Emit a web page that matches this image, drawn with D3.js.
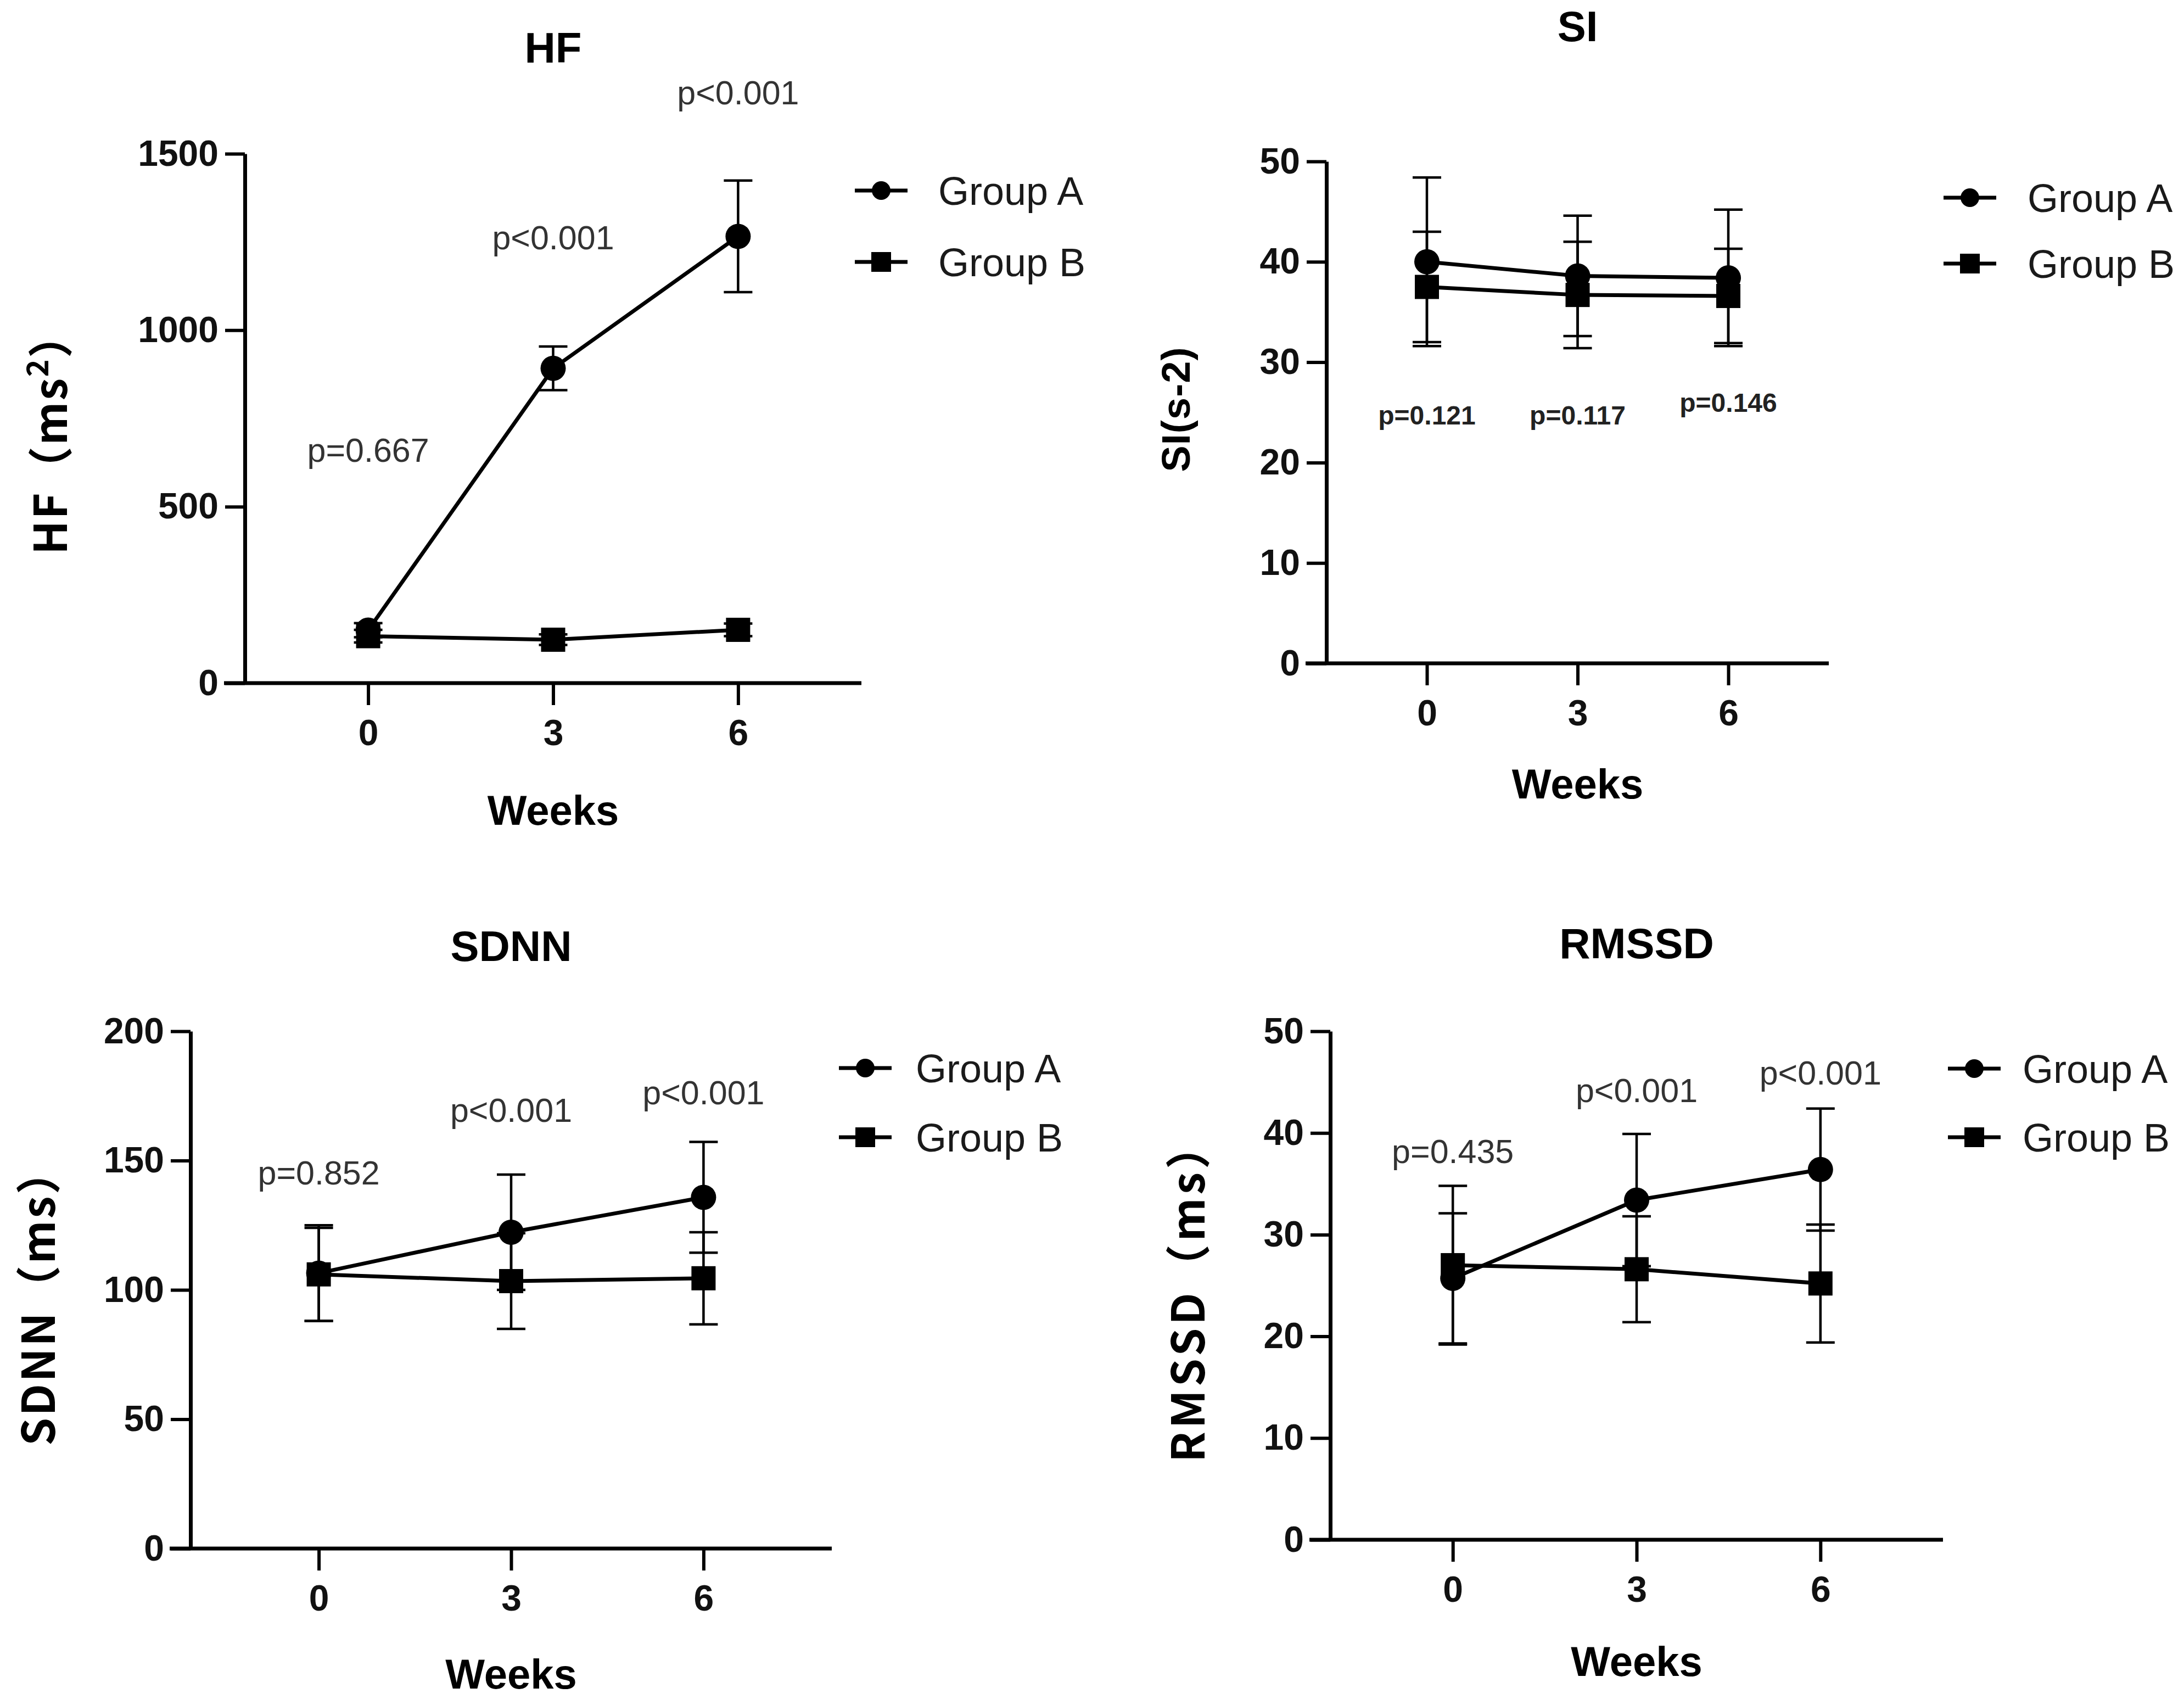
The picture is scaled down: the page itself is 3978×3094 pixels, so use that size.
<!DOCTYPE html>
<html>
<head>
<meta charset="utf-8">
<script src="https://cdn.jsdelivr.net/npm/d3@7"></script>
<style>
  html, body { margin: 0; padding: 0; background: #fff; }
  svg { display: block; }
</style>
</head>
<body>
<svg id="chart"></svg>
<script>
// x categories (weeks) and legend names
const weeks = [0, 3, 6];
const groupNames = ['Group A', 'Group B'];

// HF (ms^2), mean and error per week
const hfA = [150, 892, 1266];
const hfAErr = [20, 62, 158];
const hfB = [133, 123, 151];
const hfBErr = [18, 15, 18];
const hfTicks = [0, 500, 1000, 1500];
const hfP = ['p=0.667', 'p<0.001', 'p<0.001'];

// SI (s-2)
const siA = [40.0, 38.6, 38.4];
const siAErr = [8.4, 6.0, 6.8];
const siB = [37.5, 36.7, 36.6];
const siBErr = [5.5, 5.3, 4.7];
const siTicks = [0, 10, 20, 30, 40, 50];
const siP = ['p=0.121', 'p=0.117', 'p=0.146'];

// SDNN (ms)
const sdnnA = [106.5, 122.3, 135.8];
const sdnnAErr = [18.5, 22.3, 21.4];
const sdnnB = [106, 103.4, 104.5];
const sdnnBErr = [18, 18.5, 17.8];
const sdnnTicks = [0, 50, 100, 150, 200];
const sdnnP = ['p=0.852', 'p<0.001', 'p<0.001'];

// RMSSD (ms)
const rmssdA = [25.7, 33.4, 36.4];
const rmssdAErr = [6.4, 6.5, 6.0];
const rmssdB = [27.0, 26.6, 25.2];
const rmssdBErr = [7.8, 5.2, 5.8];
const rmssdTicks = [0, 10, 20, 30, 40, 50];
const rmssdP = ['p=0.435', 'p<0.001', 'p<0.001'];

const W = 3978, H = 3094;
const LATIN = '"Liberation Sans", Arial, sans-serif';
const CJK = '"Noto Sans CJK SC", "Noto Sans CJK JP", sans-serif';

// layout of each panel (pixels), p label heights are in data units
const panels = [
  { title: 'HF', label: ['HF（ms', '2', '）'], labelFont: CJK, a: hfA, aErr: hfAErr, b: hfB, bErr: hfBErr,
    ticks: hfTicks, p: hfP, pY: [660, 1262, 1674], pBold: false,
    xr: [446, 1569], yr: [1244, 280], titleY: 114, weeksY: 1502,
    legend: { x: 1605, y: [347, 477], tx: 1709 }, lab: { x: 122, y: 790, len: 440 } },
  { title: 'SI', label: ['SI(s-2)'], labelFont: LATIN, a: siA, aErr: siAErr, b: siB, bErr: siBErr,
    ticks: siTicks, p: siP, pY: [24.7, 24.7, 26.0], pBold: true,
    xr: [2416, 3331], yr: [1208, 294], titleY: 75, weeksY: 1454,
    legend: { x: 3588, y: [360, 480], tx: 3693 }, lab: { x: 2167, y: 746, len: 227 } },
  { title: 'SDNN', label: ['SDNN（ms）'], labelFont: CJK, a: sdnnA, aErr: sdnnAErr, b: sdnnB, bErr: sdnnBErr,
    ticks: sdnnTicks, p: sdnnP, pY: [145.2, 169.6, 176.2], pBold: false,
    xr: [347, 1515], yr: [2820, 1878], titleY: 1750, weeksY: 3075,
    legend: { x: 1576, y: [1945, 2071], tx: 1668 }, lab: { x: 100, y: 2363, len: 540 } },
  { title: 'RMSSD', label: ['RMSSD（ms）'], labelFont: CJK, a: rmssdA, aErr: rmssdAErr, b: rmssdB, bErr: rmssdBErr,
    ticks: rmssdTicks, p: rmssdP, pY: [38.2, 44.2, 45.9], pBold: false,
    xr: [2423, 3539], yr: [2804, 1878], titleY: 1745, weeksY: 3052,
    legend: { x: 3596, y: [1946, 2071], tx: 3684 }, lab: { x: 2194, y: 2355, len: 616 } }
];

const svg = d3.select('#chart')
  .attr('width', W)
  .attr('height', H)
  .attr('viewBox', `0 0 ${W} ${H}`);

svg.append('rect').attr('width', W).attr('height', H).attr('fill', '#fff');

// draws a filled marker (circle for A, square for B)
function drawMarker(g, shape, cx, cy, size) {
  if (shape === 0) {
    g.append('circle').attr('cx', cx).attr('cy', cy).attr('r', size / 2).attr('fill', '#000');
  } else {
    g.append('rect').attr('x', cx - size / 2).attr('y', cy - size / 2)
      .attr('width', size).attr('height', size).attr('fill', '#000');
  }
}

function renderPanel(cfg) {
  const g = svg.append('g');
  const x = d3.scaleLinear().domain([-2, 8]).range(cfg.xr);
  const yMax = cfg.ticks[cfg.ticks.length - 1];
  const y = d3.scaleLinear().domain([0, yMax]).range(cfg.yr);

  // y axis
  const yAxis = g.append('g')
    .attr('transform', `translate(${cfg.xr[0]},0)`)
    .call(d3.axisLeft(y).tickValues(cfg.ticks).tickFormat(d3.format('d'))
      .tickSize(36).tickPadding(12).tickSizeOuter(0));
  yAxis.select('.domain').attr('stroke-width', 7);
  yAxis.selectAll('.tick line').attr('stroke-width', 6);
  yAxis.selectAll('.tick text')
    .attr('font-family', LATIN).attr('font-weight', 'bold').attr('font-size', 66).attr('fill', '#111');

  // x axis, starts at the end of the y ticks like the original
  const xAxis = g.append('g')
    .attr('transform', `translate(0,${cfg.yr[0]})`)
    .call(d3.axisBottom(x).tickValues(weeks).tickSize(40).tickPadding(26).tickSizeOuter(0));
  xAxis.select('.domain')
    .attr('d', `M${cfg.xr[0] - 38},0H${cfg.xr[1]}`)
    .attr('stroke-width', 7);
  xAxis.selectAll('.tick line').attr('stroke-width', 6);
  xAxis.selectAll('.tick text')
    .attr('font-family', LATIN).attr('font-weight', 'bold').attr('font-size', 66).attr('fill', '#111');

  // title and x title
  const cx = (cfg.xr[0] + cfg.xr[1]) / 2;
  g.append('text').attr('x', cx).attr('y', cfg.titleY).attr('text-anchor', 'middle')
    .attr('font-family', LATIN).attr('font-weight', 'bold').attr('font-size', 78).text(cfg.title);
  g.append('text').attr('x', cx).attr('y', cfg.weeksY).attr('text-anchor', 'middle')
    .attr('font-family', LATIN).attr('font-weight', 'bold').attr('font-size', 76).text('Weeks');

  // y title, rotated
  const yl = g.append('text')
    .attr('transform', `translate(${cfg.lab.x},${cfg.lab.y}) rotate(-90)`)
    .attr('text-anchor', 'middle')
    .attr('font-family', cfg.labelFont).attr('font-weight', 'bold')
    .attr('font-size', cfg.labelFont === CJK ? 82 : 72)
    .attr('textLength', cfg.lab.len).attr('lengthAdjust', 'spacing');
  if (cfg.label.length === 3) {
    yl.append('tspan').text(cfg.label[0]);
    yl.append('tspan').attr('dy', -34).attr('font-size', 54).text(cfg.label[1]);
    yl.append('tspan').attr('dy', 34).text(cfg.label[2]);
  } else {
    yl.text(cfg.label[0]);
  }

  // series
  const series = [
    { mean: cfg.a, err: cfg.aErr, shape: 0 },
    { mean: cfg.b, err: cfg.bErr, shape: 1 }
  ];
  const line = d3.line().x((d, i) => x(weeks[i])).y(d => y(d));
  const cap = 26;

  series.forEach(s => {
    s.mean.forEach((m, i) => {
      const px = x(weeks[i]);
      const top = y(m + s.err[i]);
      const bot = y(m - s.err[i]);
      g.append('path')
        .attr('d', `M${px},${top}V${bot}M${px - cap},${top}H${px + cap}M${px - cap},${bot}H${px + cap}`)
        .attr('stroke', '#000').attr('stroke-width', 4.5).attr('fill', 'none');
    });
  });
  series.forEach(s => {
    g.append('path').datum(s.mean).attr('d', line)
      .attr('stroke', '#000').attr('stroke-width', 7).attr('fill', 'none');
  });
  series.forEach(s => {
    s.mean.forEach((m, i) => drawMarker(g, s.shape, x(weeks[i]), y(m), s.shape === 0 ? 46 : 44));
  });

  // p values
  cfg.p.forEach((t, i) => {
    g.append('text').attr('x', x(weeks[i])).attr('y', y(cfg.pY[i])).attr('dy', '0.35em')
      .attr('text-anchor', 'middle')
      .attr('font-family', LATIN)
      .attr('font-weight', cfg.pBold ? 'bold' : 'normal')
      .attr('font-size', cfg.pBold ? 48 : 61)
      .attr('fill', cfg.pBold ? '#222' : '#333')
      .text(t);
  });

  // legend
  groupNames.forEach((name, i) => {
    const ly = cfg.legend.y[i];
    g.append('line').attr('x1', cfg.legend.x - 48).attr('x2', cfg.legend.x + 48)
      .attr('y1', ly).attr('y2', ly).attr('stroke', '#000').attr('stroke-width', 7);
    drawMarker(g, i, cfg.legend.x, ly, i === 0 ? 34 : 36);
    g.append('text').attr('x', cfg.legend.tx).attr('y', ly).attr('dy', '0.36em')
      .attr('font-family', LATIN).attr('font-size', 72).attr('fill', '#1a1a1a').text(name);
  });
}

panels.forEach(renderPanel);
</script>
</body>
</html>
